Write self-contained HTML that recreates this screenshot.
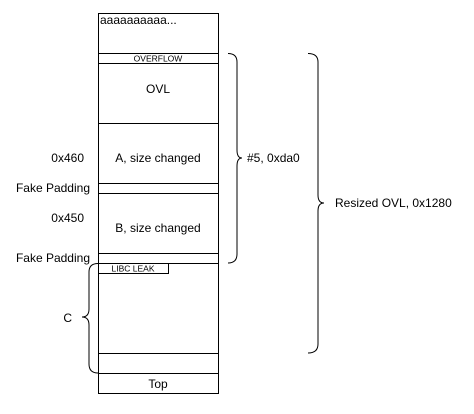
<!DOCTYPE html>
<html><head><style>body{margin:0;background:#fff}</style></head><body>
<svg width="474" height="409" xmlns="http://www.w3.org/2000/svg" font-family="Liberation Sans, Arial, sans-serif" font-size="12">
<g fill="none" stroke="#000" stroke-width="1">
<rect x="98.5" y="13.5" width="120" height="380"/>
<line x1="98" y1="53.5" x2="218" y2="53.5"/>
<line x1="98" y1="63.5" x2="218" y2="63.5"/>
<line x1="98" y1="123.5" x2="218" y2="123.5"/>
<line x1="98" y1="183.5" x2="218" y2="183.5"/>
<line x1="98" y1="193.5" x2="218" y2="193.5"/>
<line x1="98" y1="253.5" x2="218" y2="253.5"/>
<line x1="98" y1="263.5" x2="218" y2="263.5"/>
<line x1="98" y1="353.5" x2="218" y2="353.5"/>
<line x1="98" y1="373.5" x2="218" y2="373.5"/>
<rect x="98.5" y="263.5" width="70" height="10"/>
<path d="M228 53.5 Q237 53.5 237 62 L237 150 Q237 158 242 158 Q237 158 237 166 L237 254 Q237 263 228 263"/>
<path d="M308 53.5 Q318 53.5 318 62 L318 195 Q318 203 324 203 Q318 203 318 211 L318 344 Q318 353 308 353"/>
<path d="M98 263.5 Q89 263.5 89 272 L89 309 Q89 317 82 317 Q89 317 89 325 L89 364 Q89 373 98 373"/>
</g>
<g fill="#000">
<text x="100" y="24">aaaaaaaaaa...</text>
<text x="158" y="61.5" font-size="8.5" text-anchor="middle">OVERFLOW</text>
<text x="158" y="93" text-anchor="middle">OVL</text>
<text x="158" y="162" text-anchor="middle">A, size changed</text>
<text x="158" y="232" text-anchor="middle">B, size changed</text>
<text x="133" y="271.5" font-size="8.5" text-anchor="middle">LIBC LEAK</text>
<text x="158" y="388" text-anchor="middle">Top</text>
<text x="84" y="162" text-anchor="end">0x460</text>
<text x="84" y="222" text-anchor="end">0x450</text>
<text x="90" y="192" text-anchor="end">Fake Padding</text>
<text x="90" y="262" text-anchor="end">Fake Padding</text>
<text x="72" y="322" text-anchor="end">C</text>
<text x="247" y="162">#5, 0xda0</text>
<text x="335" y="207">Resized OVL, 0x1280</text>
</g>
</svg>
</body></html>
